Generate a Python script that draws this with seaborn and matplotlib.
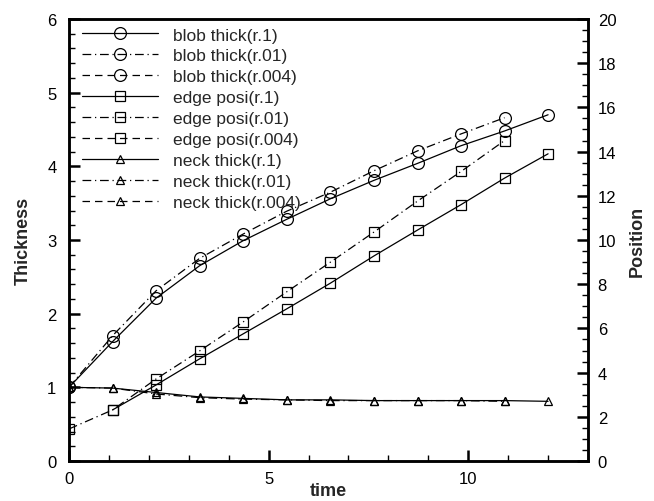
import numpy as np
import pandas as pd
import seaborn as sns
import matplotlib
matplotlib.use("Agg")
import matplotlib.pyplot as plt
from matplotlib.lines import Line2D
from matplotlib.ticker import MultipleLocator

# sample times (12 output steps over 0..12)
time = [0.0, 1.09, 2.18, 3.27, 4.36, 5.45, 6.55, 7.64, 8.73, 9.82, 10.91, 12.0]

# blob thickness (left axis)
blob_r1 = [1.0, 1.62, 2.21, 2.65, 2.99, 3.28, 3.56, 3.81, 4.04, 4.28, 4.48, 4.70]
blob_r01 = [1.0, 1.70, 2.31, 2.75, 3.08, 3.39, 3.65, 3.94, 4.21, 4.44, 4.66]
blob_r004 = []

# edge position (right axis); the r.1 run has no edge value at t=0
edge_r1 = [np.nan, 2.31, 3.44, 4.62, 5.75, 6.88, 8.05, 9.28, 10.45, 11.6, 12.8, 13.9]
edge_r01 = [1.45, 2.31, 3.71, 4.98, 6.29, 7.65, 9.0, 10.36, 11.76, 13.1, 14.5]
edge_r004 = []

# neck thickness (left axis)
neck_r1 = [1.0, 0.99, 0.93, 0.87, 0.85, 0.83, 0.83, 0.82, 0.82, 0.82, 0.82, 0.81]
neck_r01 = [1.0, 0.99, 0.91, 0.86, 0.84, 0.83, 0.82, 0.82, 0.82, 0.82, 0.81]
neck_r004 = []

labels = ["blob thick(r.1)", "blob thick(r.01)", "blob thick(r.004)",
          "edge posi(r.1)", "edge posi(r.01)", "edge posi(r.004)",
          "neck thick(r.1)", "neck thick(r.01)", "neck thick(r.004)"]

sns.set_theme(style="ticks")
plt.rcParams["font.family"] = ["Liberation Sans", "DejaVu Sans"]

fig = plt.figure(figsize=(6.54, 5.02), dpi=100)
ax = fig.add_axes([69 / 654, 1 - 462 / 502, 519 / 654, 442 / 502])
ax2 = ax.twinx()

styles = {"r.1": "-", "r.01": (0, (7, 3, 1, 3)), "r.004": (0, (6, 4))}
marks = {"blob": ("o", 8.5), "edge": ("s", 7.5), "neck": ("^", 6)}

series = [
    (ax, "blob", "r.1", blob_r1), (ax, "blob", "r.01", blob_r01), (ax, "blob", "r.004", blob_r004),
    (ax2, "edge", "r.1", edge_r1), (ax2, "edge", "r.01", edge_r01), (ax2, "edge", "r.004", edge_r004),
    (ax, "neck", "r.1", neck_r1), (ax, "neck", "r.01", neck_r01), (ax, "neck", "r.004", neck_r004),
]

handles = []
for target, kind, run, vals in series:
    m, ms = marks[kind]
    kw = dict(color="black", linewidth=0.9, linestyle=styles[run], marker=m,
              markersize=ms, markerfacecolor="none", markeredgecolor="black",
              markeredgewidth=0.9)
    if len(vals):
        df = pd.DataFrame({"t": time[:len(vals)], "v": vals}).dropna()
        sns.lineplot(data=df, x="t", y="v", ax=target, legend=False, **kw)
    handles.append(Line2D([], [], **kw))

ax.set_xlim(0, 13)
ax.set_ylim(0, 6)
ax2.set_ylim(0, 20)

ax.xaxis.set_major_locator(MultipleLocator(5))
ax.xaxis.set_minor_locator(MultipleLocator(1))
ax.yaxis.set_major_locator(MultipleLocator(1))
ax.yaxis.set_minor_locator(MultipleLocator(0.2))
ax2.yaxis.set_major_locator(MultipleLocator(2))
ax2.yaxis.set_minor_locator(MultipleLocator(0.5))

for a in (ax, ax2):
    a.tick_params(which="major", direction="in", length=8, width=1.8, labelsize=12,
                  colors="black")
    a.tick_params(which="minor", direction="in", length=4, width=1.0, colors="black")
    for s in a.spines.values():
        s.set_linewidth(1.8)
        s.set_color("black")
ax.tick_params(axis="x", which="both", top=False, pad=7)
ax.tick_params(axis="y", which="both", right=False, pad=9)
ax2.tick_params(axis="y", which="both", left=False, right=True, pad=7)

ax.set_xlabel("time", fontsize=13, fontweight="bold", labelpad=-3)
ax.set_ylabel("Thickness", fontsize=13, fontweight="bold", labelpad=11)
ax2.set_ylabel("Position", fontsize=13, fontweight="bold", labelpad=9)

ax.legend(handles, labels, loc="upper left", bbox_to_anchor=(0.025, 0.981),
          frameon=False, fontsize=12.5, handlelength=4.4, handletextpad=0.85,
          labelspacing=0.33, borderpad=0, borderaxespad=0)

fig.savefig("out.png", dpi=100)
